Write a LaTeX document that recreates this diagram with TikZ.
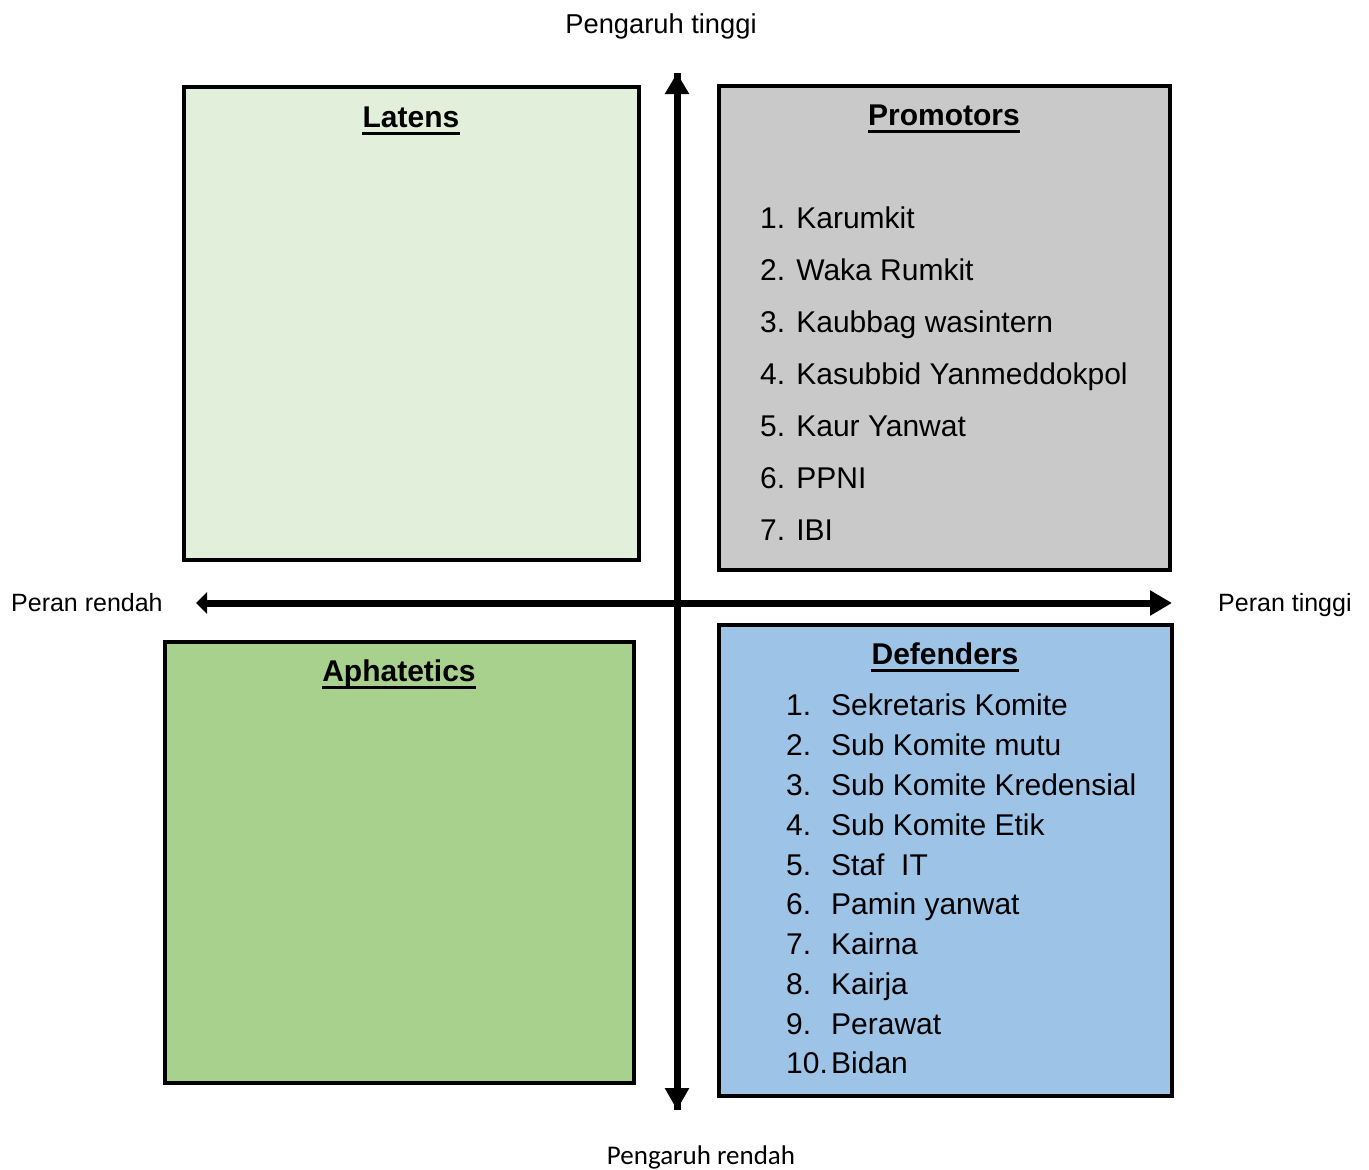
\documentclass[tikz,border=0pt]{standalone}
\usepackage{fontspec}
\setmainfont{Liberation Sans}
\newfontfamily\calibrifont{Carlito}
\usetikzlibrary{arrows.meta}
\definecolor{latensc}{HTML}{E2EFDA}
\definecolor{promoc}{HTML}{C9C9C9}
\definecolor{aphac}{HTML}{A9D18E}
\definecolor{defc}{HTML}{9DC3E6}
\tikzset{
  quad/.style={draw=black, line width=4.5pt, inner sep=0pt},
  axis/.style={line width=7pt},
  head/.style={font=\fontsize{30}{36}\selectfont\bfseries, inner sep=0pt, anchor=base},
  ul/.style={line width=3pt},
  item/.style={font=\fontsize{30}{36}\selectfont, inner sep=0pt, anchor=base west},
  axlab/.style={font=\fontsize{25}{30}\selectfont, inner sep=0pt},
}
\begin{document}
\begin{tikzpicture}[x=1pt,y=-1pt]
\useasboundingbox (0,0) rectangle (1369,1170);
% quadrants
\node[quad, fill=latensc, minimum width=455pt, minimum height=473pt] (lat) at (411.5,323.5) {};
\node[quad, fill=promoc, minimum width=451pt, minimum height=484pt] (pro) at (944.5,328) {};
\node[quad, fill=aphac, minimum width=469pt, minimum height=441pt] (aph) at (399.5,862.5) {};
\node[quad, fill=defc, minimum width=453pt, minimum height=471pt] (def) at (945.5,860.5) {};
% axes
\coordinate (vtop) at (677,73);
\coordinate (vbot) at (677,1110);
\coordinate (hleft) at (196,603);
\coordinate (hright) at (1172,603);
\draw[axis, -{Triangle[length=21pt,width=23pt]}] (vbot) -- (vtop);
\draw[axis, -{Triangle[length=22pt,width=23pt]}] (vtop) -- (vbot);
\draw[axis, {Triangle[length=11pt,width=21pt]}-{Triangle[length=22pt,width=24pt]}] (hleft) -- (hright);
% axis labels
\node[axlab, anchor=base, font=\fontsize{27.3}{32}\selectfont] (ht) at (661,33) {Pengaruh tinggi};
\node[axlab, anchor=base, font=\calibrifont\fontsize{27}{32}\selectfont] (hr) at (701,1164) {Pengaruh rendah};
\node[axlab, anchor=base west] (pr) at (11,611) {Peran rendah};
\node[axlab, anchor=base west] (pt) at (1218,611) {Peran tinggi};
% headings
\node[head] (hlat) at (411,127) {Latens};
\node[head] (hpro) at (944,125) {Promotors};
\node[head] (haph) at (399,681) {Aphatetics};
\node[head] (hdef) at (945,664) {Defenders};
\foreach \h in {hlat,hpro,haph,hdef}{
  \draw[ul] ([yshift=-6pt]\h.base west) -- ([yshift=-6pt]\h.base east);
}
% promotors list
\node[item] (p1) at (760,228) {1. Karumkit};
\node[item] (p2) at (760,280) {2. Waka Rumkit};
\node[item] (p3) at (760,332) {3. Kaubbag wasintern};
\node[item] (p4) at (760,384) {4. Kasubbid Yanmeddokpol};
\node[item] (p5) at (760,436) {5. Kaur Yanwat};
\node[item] (p6) at (760,488) {6. PPNI};
\node[item] (p7) at (760,540) {7. IBI};
% defenders list
\foreach \n/\t/\y in {1/Sekretaris Komite/715, 2/Sub Komite mutu/755, 3/Sub Komite Kredensial/795, 4/Sub Komite Etik/835, 5/Staf\ \ IT/875, 6/Pamin yanwat/914, 7/Kairna/954, 8/Kairja/994, 9/Perawat/1034, 10/Bidan/1073}{
  \node[item] (dn\n) at (786,\y) {\n.};
  \node[item] (dt\n) at (831,\y) {\t};
}
\end{tikzpicture}
\end{document}
